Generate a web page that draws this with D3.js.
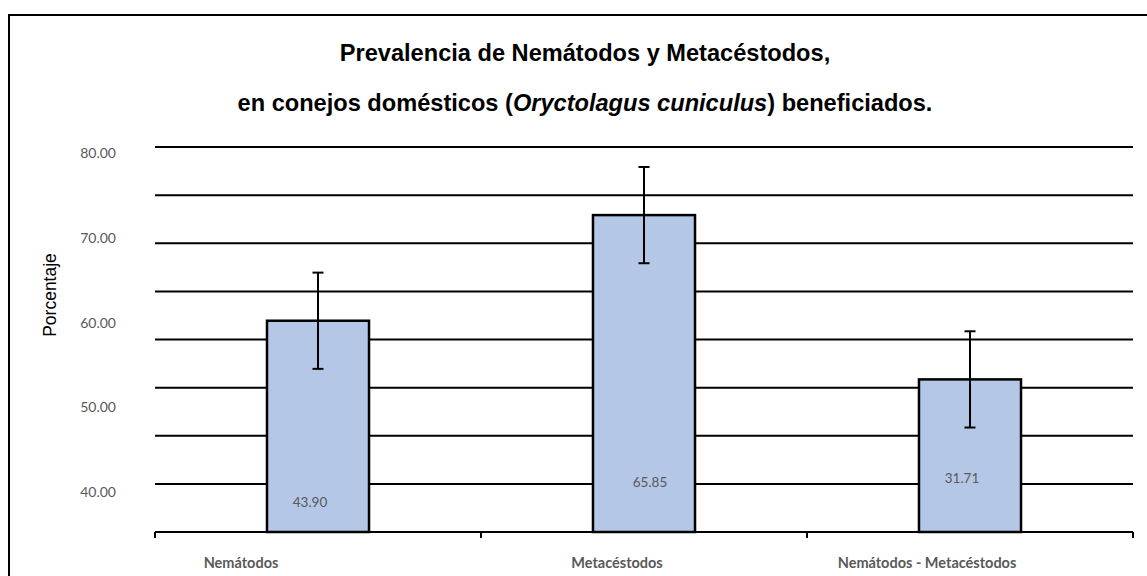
<!DOCTYPE html>
<html>
<head>
<meta charset="utf-8">
<script src="https://cdn.jsdelivr.net/npm/d3@7"></script>
<style>
  body { margin: 0; background: #fff; overflow: hidden; }
  svg { display: block; }
</style>
</head>
<body>
<div id="chart"></div>
<script>
// Chart data
const categories = ["Nemátodos", "Metacéstodos", "Nemátodos - Metacéstodos"];
const prevalence = [43.90, 65.85, 31.71];
const errorValue = [10, 10, 10];
const labelTicks = [40, 50, 60, 70, 80];

document.addEventListener("DOMContentLoaded", function() {
  const width = 1147, height = 576;
  const margin = { top: 147, right: 14, bottom: 44, left: 155 };
  const grey = "#595959";

  const svg = d3.select("#chart").append("svg")
    .attr("width", width)
    .attr("height", height);

  // Outer chart border: only the left and top edges fall inside the picture.
  svg.append("path")
    .attr("d", `M9,${height + 10}V15H${width + 10}`)
    .attr("fill", "none")
    .attr("stroke", "#000")
    .attr("stroke-width", 2);

  // Title, two lines, with the species name in italics.
  const title = svg.append("text")
    .attr("text-anchor", "middle")
    .style("font-family", "'Liberation Sans', Arial, sans-serif")
    .style("font-weight", "bold")
    .style("font-size", "23.6px")
    .attr("fill", "#000");
  title.append("tspan").attr("x", 585).attr("y", 61)
    .text("Prevalencia de Nemátodos y Metacéstodos,");
  const line2 = title.append("tspan").attr("x", 585).attr("y", 111);
  line2.append("tspan").text("en conejos domésticos (");
  line2.append("tspan").style("font-style", "italic").text("Oryctolagus cuniculus");
  line2.append("tspan").text(") beneficiados.");

  const x = d3.scaleBand()
    .domain(categories)
    .range([margin.left, width - margin.right])
    .padding(0);
  const barWidth = x.bandwidth() * 0.313;

  // Bars are drawn against a 0..80 scale.
  const y = d3.scaleLinear()
    .domain([0, 80])
    .range([height - margin.bottom, margin.top]);

  // The printed tick labels follow a second scale (as in the original chart).
  const yLabel = d3.scaleLinear()
    .domain([34.6, 80])
    .range([height - margin.bottom, margin.top]);

  // Horizontal gridlines every 10 units.
  svg.append("g")
    .selectAll("line")
    .data(y.ticks(8).filter(d => d > 0))
    .enter().append("line")
    .attr("x1", margin.left).attr("x2", width - margin.right)
    .attr("y1", d => y(d)).attr("y2", d => y(d))
    .attr("stroke", "#000")
    .attr("stroke-width", 2);

  // Tick labels on the left.
  svg.append("g")
    .selectAll("text")
    .data(labelTicks)
    .enter().append("text")
    .attr("x", 116)
    .attr("y", d => yLabel(d) + 6)
    .attr("dy", "0.35em")
    .attr("text-anchor", "end")
    .style("font-family", "Lato, 'Open Sans', sans-serif")
    .style("font-size", "14px")
    .attr("fill", grey)
    .text(d => d3.format(".2f")(d));

  // Axis title.
  svg.append("text")
    .attr("transform", "translate(56,295) rotate(-90)")
    .attr("text-anchor", "middle")
    .style("font-family", "'Liberation Sans', Arial, sans-serif")
    .style("font-size", "17.5px")
    .attr("fill", "#000")
    .text("Porcentaje");

  // Bars.
  svg.append("g")
    .selectAll("rect")
    .data(prevalence)
    .enter().append("rect")
    .attr("x", (d, i) => x(categories[i]) + (x.bandwidth() - barWidth) / 2)
    .attr("y", d => y(d))
    .attr("width", barWidth)
    .attr("height", d => y(0) - y(d))
    .attr("fill", "#b4c7e7")
    .attr("stroke", "#000")
    .attr("stroke-width", 2.5);

  // Error bars.
  const capHalf = 5.5;
  const err = svg.append("g")
    .selectAll("g")
    .data(prevalence)
    .enter().append("g")
    .attr("stroke", "#000")
    .attr("stroke-width", 2);
  err.append("line")
    .attr("x1", (d, i) => x(categories[i]) + x.bandwidth() / 2)
    .attr("x2", (d, i) => x(categories[i]) + x.bandwidth() / 2)
    .attr("y1", (d, i) => y(d + errorValue[i]))
    .attr("y2", (d, i) => y(d - errorValue[i]));
  err.append("line")
    .attr("x1", (d, i) => x(categories[i]) + x.bandwidth() / 2 - capHalf)
    .attr("x2", (d, i) => x(categories[i]) + x.bandwidth() / 2 + capHalf)
    .attr("y1", (d, i) => y(d + errorValue[i]))
    .attr("y2", (d, i) => y(d + errorValue[i]));
  err.append("line")
    .attr("x1", (d, i) => x(categories[i]) + x.bandwidth() / 2 - capHalf)
    .attr("x2", (d, i) => x(categories[i]) + x.bandwidth() / 2 + capHalf)
    .attr("y1", (d, i) => y(d - errorValue[i]))
    .attr("y2", (d, i) => y(d - errorValue[i]));

  // Data labels inside the bars (placed by hand in the original).
  const labelDx = [-8, 6, -8];
  const labelRise = [25, 45, 49];
  svg.append("g")
    .selectAll("text")
    .data(prevalence)
    .enter().append("text")
    .attr("x", (d, i) => x(categories[i]) + x.bandwidth() / 2 + labelDx[i])
    .attr("y", (d, i) => y(0) - labelRise[i])
    .attr("text-anchor", "middle")
    .style("font-family", "Lato, 'Open Sans', sans-serif")
    .style("font-size", "13.5px")
    .attr("fill", grey)
    .text(d => d3.format(".2f")(d));

  // Category axis with ticks at band edges.
  const xAxis = svg.append("g")
    .attr("transform", `translate(0,${y(0)})`);
  xAxis.append("line")
    .attr("x1", margin.left).attr("x2", width - margin.right)
    .attr("stroke", "#000").attr("stroke-width", 2);
  const edges = categories.map(c => x(c)).concat([width - margin.right]);
  xAxis.selectAll(".tick")
    .data(edges)
    .enter().append("line")
    .attr("x1", d => d).attr("x2", d => d)
    .attr("y1", 0).attr("y2", 6)
    .attr("stroke", "#000").attr("stroke-width", 2);

  const catDx = [-77, -27, -43];
  xAxis.selectAll(".cat")
    .data(categories)
    .enter().append("text")
    .attr("x", (d, i) => x(d) + x.bandwidth() / 2 + catDx[i])
    .attr("y", 36)
    .attr("text-anchor", "middle")
    .style("font-family", "Lato, 'Open Sans', sans-serif")
    .style("font-weight", "bold")
    .style("font-size", "14.5px")
    .attr("fill", grey)
    .text(d => d);
});
</script>
</body>
</html>
